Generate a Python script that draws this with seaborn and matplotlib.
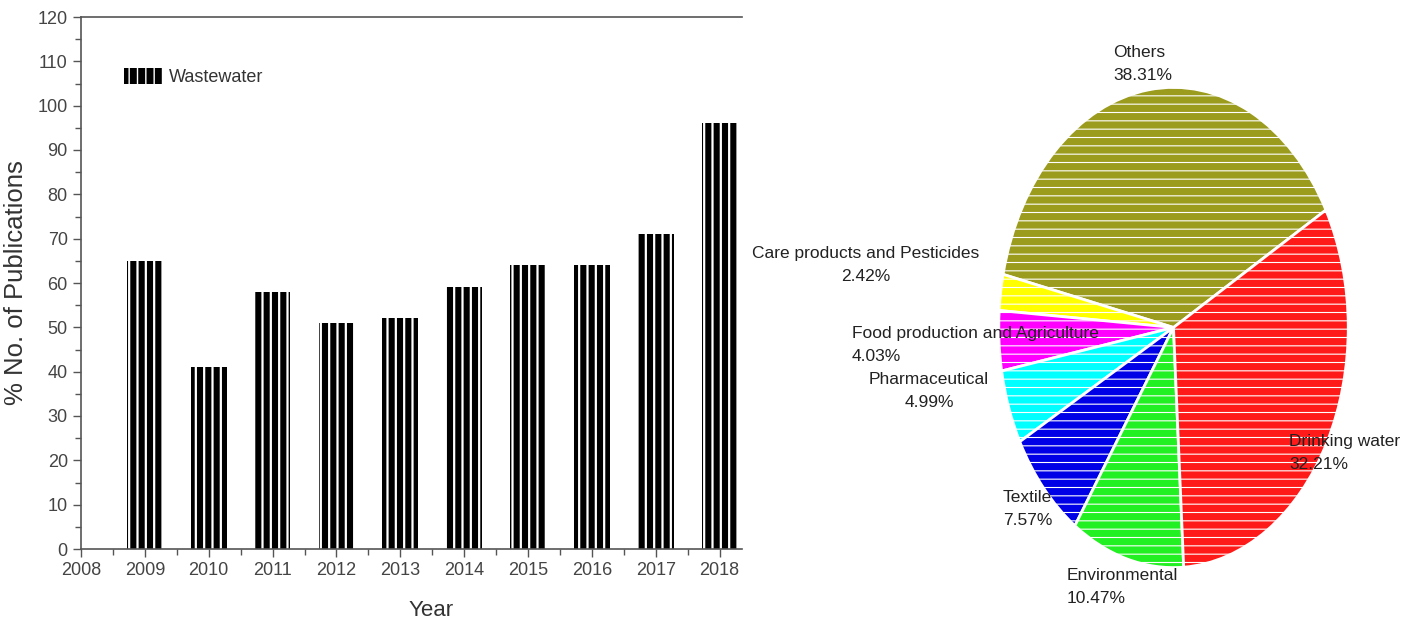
import matplotlib.pyplot as plt
import seaborn as sns
from matplotlib.ticker import MultipleLocator

# bar chart data: share of wastewater publications per year
years = [2009, 2010, 2011, 2012, 2013, 2014, 2015, 2016, 2017, 2018]
publications = [65, 41, 58, 51, 52, 59, 64, 64, 71, 96]

# pie chart data (drawn counter-clockwise starting with Others)
sectors = ['Others', 'Care products and Pesticides', 'Food production and Agriculture',
           'Pharmaceutical', 'Textile', 'Environmental', 'Drinking water']
shares = [38.31, 2.42, 4.03, 4.99, 7.57, 10.47, 32.21]
sector_colors = ['#9b9b1e', '#ffff00', '#ff00ff', '#00ffff', '#0000e6', '#22f022', '#ff1a1a']

# where each pie label sits (figure pixels) and how it is aligned
label_place = [(1113, 64, 'left'), (866, 265, 'center'), (852, 345, 'left'),
               (929, 391, 'center'), (1003, 509, 'left'), (1067, 587, 'left'),
               (1289, 453, 'left')]

sns.set_style('ticks')
plt.rcParams['font.family'] = ['Liberation Sans', 'DejaVu Sans']

W, H = 1413, 620
fig = plt.figure(figsize=(W / 100, H / 100), dpi=100)

# ---- left: bar chart ----
ax = fig.add_axes([81 / W, 1 - 549 / H, (742 - 81) / W, (549 - 17) / H])
with plt.rc_context({'hatch.linewidth': 1.6}):
    sns.barplot(x=years, y=publications, native_scale=True, width=0.56,
                color='black', saturation=1, edgecolor='white', linewidth=0,
                hatch='||', ax=ax)

ax.set_xlim(2008, 2018.35)
ax.set_ylim(0, 120)
ax.xaxis.set_major_locator(MultipleLocator(1))
ax.xaxis.set_minor_locator(MultipleLocator(0.5))
ax.yaxis.set_major_locator(MultipleLocator(10))
ax.yaxis.set_minor_locator(MultipleLocator(5))
ax.tick_params(which='major', length=6, width=1, color='#555555', labelsize=13,
               labelcolor='#444444', direction='out')
ax.tick_params(which='minor', length=4, width=1, color='#555555', direction='out')
ax.spines['right'].set_visible(False)
for side in ['left', 'bottom', 'top']:
    ax.spines[side].set_color('#555555')
    ax.spines[side].set_linewidth(1.2)

ax.set_xlabel('Year', fontsize=16, color='#333333')
ax.set_ylabel('% No. of Publications', fontsize=18.5, color='#333333')
ax.xaxis.set_label_coords(0.53, -0.095)
ax.yaxis.set_label_coords(-0.08, 0.5)

ax.legend(handles=[ax.patches[0]], labels=['Wastewater'], loc='upper left',
          bbox_to_anchor=(0.04, 0.935), frameon=False, fontsize=13,
          handlelength=2.2, handleheight=1.0, handletextpad=0.3, labelcolor='#333333')

# ---- right: pie chart (stretched into an oval like the original) ----
pax = fig.add_axes([997 / W, 1 - 570 / H, (1350 - 997) / W, (570 - 85) / H])
with plt.rc_context({'hatch.linewidth': 0.8}):
    pax.pie(shares, colors=sector_colors, startangle=29.3, counterclock=True,
            wedgeprops=dict(edgecolor='white', linewidth=2, hatch='--'))
pax.set_aspect('auto')
pax.set_xlim(-1.01, 1.01)
pax.set_ylim(-1.01, 1.01)

for name, share, (px, py, align) in zip(sectors, shares, label_place):
    fig.text(px / W, 1 - py / H, f'{name}\n{share:.2f}%', ha=align, va='center',
             multialignment=align, fontsize=12.5, linespacing=1.6, color='#222222')

plt.savefig('out.png', dpi=100, facecolor='white')
